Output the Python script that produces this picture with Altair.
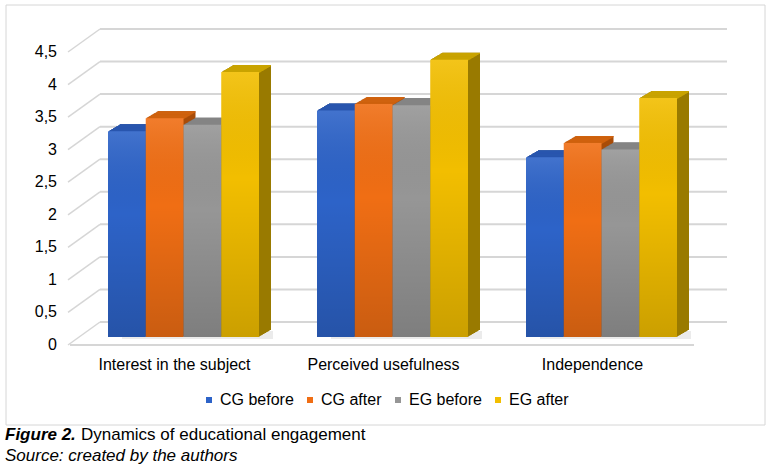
import altair as alt
import pandas as pd

# ---------------- data ----------------
categories = ["Interest in the subject", "Perceived usefulness", "Independence"]
series = ["CG before", "CG after", "EG before", "EG after"]
cg_before = [3.16, 3.48, 2.76]
cg_after = [3.36, 3.58, 2.98]
eg_before = [3.26, 3.56, 2.88]
eg_after = [4.07, 4.26, 3.67]
y_ticks = [0, 0.5, 1, 1.5, 2, 2.5, 3, 3.5, 4, 4.5]
caption_bold = "Figure 2."
caption_text = "Dynamics of educational engagement"
source_text = "Source: created by the authors"

series_values = {
    "CG before": cg_before,
    "CG after": cg_after,
    "EG before": eg_before,
    "EG after": eg_after,
}
df = pd.DataFrame(
    [
        {"category": c, "series": s, "value": series_values[s][i]}
        for s in series
        for i, c in enumerate(categories)
    ]
)
tick_df = pd.DataFrame({"tick": y_ticks})
one_row = pd.DataFrame({"k": [0]})

# ---------------- styles ----------------
FONT = "Liberation Sans"
front_colors = ["#2D63C8", "#F06E14", "#969696", "#F2BE00"]
top_colors = ["#2856AE", "#CF620E", "#848484", "#C9A300"]
side_colors = ["#1E448C", "#A84C08", "#686868", "#997A00"]
GRID = "#D6D6D6"

W, H = 627, 293
PAD_L, PAD_T = 70, 52
FRONT_DROP = 8       # front face sits above the front floor edge
DEPTH_X, DEPTH_Y = 12, 7
N = 12
BACK = 23            # back wall offset
GROUP_RANGE = (38, 189)

yscale = alt.Scale(domain=[0, 4.5], nice=False, zero=True)
xenc = alt.X(
    "category:N", sort=categories,
    scale=alt.Scale(domain=categories, paddingInner=0, paddingOuter=0),
    axis=alt.Axis(title=None, labelAngle=0, ticks=False, domain=False, grid=False,
                  labelPadding=11, labelFontSize=16, labelColor="#000000", labelFont=FONT),
)
yenc = alt.Y("value:Q", scale=yscale, axis=None)
ytick = alt.Y("tick:Q", scale=yscale, axis=None)


def xoff(shift):
    return alt.XOffset(
        "series:N", sort=series,
        scale=alt.Scale(domain=series, range=[GROUP_RANGE[0] + shift, GROUP_RANGE[1] + shift],
                        paddingInner=0, paddingOuter=0),
    )


layers = []

# chart frame
layers.append(
    alt.Chart(one_row).mark_rect(fill="transparent", stroke=GRID, strokeWidth=1).encode(
        x=alt.value(-64), x2=alt.value(695), y=alt.value(-47), y2=alt.value(373)
    )
)

# back-wall gridlines
layers.append(
    alt.Chart(tick_df).mark_rule(color=GRID, strokeWidth=2, yOffset=-BACK).encode(
        x=alt.value(30), x2=alt.value(657), y=ytick
    )
)
# side-wall diagonals
layers.append(
    alt.Chart(tick_df).mark_rule(color=GRID, strokeWidth=1.5, y2Offset=-BACK).encode(
        x=alt.value(-2), x2=alt.value(30), y=ytick, y2="tick:Q",
    )
)
# value labels of the vertical axis (decimal comma)
layers.append(
    alt.Chart(tick_df)
    .transform_calculate(label="replace(toString(datum.tick), '.', ',')")
    .mark_text(font=FONT, fontSize=16, align="right", baseline="middle", color="#000000")
    .encode(x=alt.value(-13), y=ytick, text="label:N")
)
# floor front edge
layers.append(
    alt.Chart(one_row).mark_rule(color=GRID, strokeWidth=2).encode(
        x=alt.value(0), x2=alt.value(624), y=alt.datum(0, scale=yscale, axis=None)
    )
)

# soft floor shadow behind each bar
layers.append(
    alt.Chart()
    .transform_calculate(base="0")
    .mark_bar(yOffset=-FRONT_DROP - 6, y2Offset=-FRONT_DROP + 2, color="#000000", opacity=0.08)
    .encode(x=xenc, xOffset=xoff(14), y=alt.Y("base:Q", scale=yscale, axis=None), y2="base:Q")
)

# side faces (extrusion)
for k in range(N, 0, -1):
    dy = -FRONT_DROP - k * DEPTH_Y / N
    layers.append(
        alt.Chart().mark_bar(yOffset=dy, y2Offset=dy).encode(
            x=xenc, xOffset=xoff(k * DEPTH_X / N), y=yenc, y2=alt.datum(0),
            color=alt.Color("series:N", scale=alt.Scale(domain=series, range=side_colors), legend=None),
        )
    )
# top faces
for k in range(N, 0, -1):
    dy = -FRONT_DROP - k * DEPTH_Y / N
    layers.append(
        alt.Chart().mark_bar(yOffset=dy, y2Offset=dy + 1.3).encode(
            x=xenc, xOffset=xoff(k * DEPTH_X / N), y=yenc, y2="value:Q",
            color=alt.Color("series:N", scale=alt.Scale(domain=series, range=top_colors), legend=None),
        )
    )

# front faces
layers.append(
    alt.Chart().mark_bar(yOffset=-FRONT_DROP, y2Offset=-FRONT_DROP).encode(
        x=xenc, xOffset=xoff(0), y=yenc, y2=alt.datum(0),
        color=alt.Color(
            "series:N", sort=series,
            scale=alt.Scale(domain=series, range=front_colors),
            legend=alt.Legend(
                title=None, orient="none", legendX=131, legendY=340,
                direction="horizontal", columns=4, columnPadding=8,
                symbolType="square", symbolSize=36, symbolStrokeWidth=0,
                labelOffset=3, labelFontSize=16, labelFont=FONT, labelColor="#000000",
                padding=0,
            ),
        ),
    )
)
# shading overlay on front faces
layers.append(
    alt.Chart().mark_bar(
        yOffset=-FRONT_DROP, y2Offset=-FRONT_DROP,
        fill=alt.Gradient(
            gradient="linear", x1=0, y1=0, x2=0, y2=1,
            stops=[
                alt.GradientStop(color="rgba(255,255,255,0.10)", offset=0),
                alt.GradientStop(color="rgba(0,0,0,0.0)", offset=0.4),
                alt.GradientStop(color="rgba(0,0,0,0.16)", offset=1),
            ],
        ),
    ).encode(x=xenc, xOffset=xoff(0), y=yenc, y2=alt.datum(0))
)

# captions
layers.append(
    alt.Chart(one_row).mark_text(
        font=FONT, fontSize=17, fontWeight="bold", fontStyle="italic",
        align="left", baseline="alphabetic", color="#000000",
    ).encode(x=alt.value(-65), y=alt.value(388), text=alt.value(caption_bold))
)
layers.append(
    alt.Chart(one_row).mark_text(
        font=FONT, fontSize=17, align="left", baseline="alphabetic", color="#000000",
    ).encode(x=alt.value(11), y=alt.value(388), text=alt.value(caption_text))
)
layers.append(
    alt.Chart(one_row).mark_text(
        font=FONT, fontSize=17, fontStyle="italic", align="left", baseline="alphabetic",
        color="#000000",
    ).encode(x=alt.value(-65), y=alt.value(409), text=alt.value(source_text))
)

chart = (
    alt.layer(*layers, data=df)
    .resolve_scale(color="independent", xOffset="independent")
    .properties(
        width=W, height=H,
        autosize=alt.AutoSizeParams(type="none"),
        padding={"left": PAD_L, "top": PAD_T, "right": 775 - PAD_L - W, "bottom": 468 - PAD_T - H},
        background="white",
    )
    .configure(font=FONT, view=alt.ViewConfig(strokeWidth=0, stroke="transparent"))
)

chart.save("out.html", embed_options={"renderer": "svg", "actions": False})
